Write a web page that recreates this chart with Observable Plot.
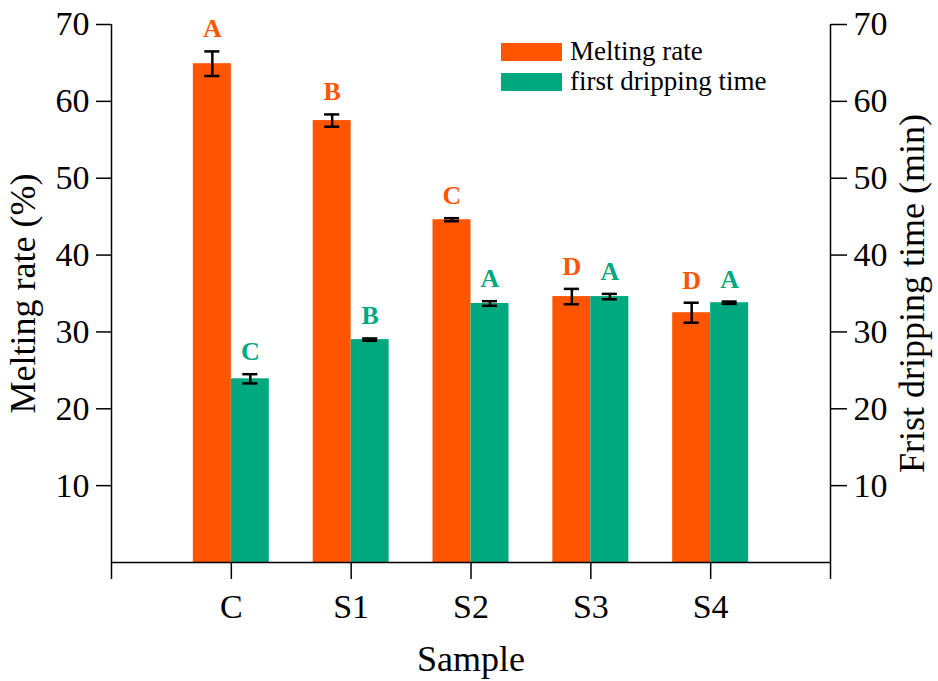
<!DOCTYPE html>
<html>
<head>
<meta charset="utf-8">
<script src="https://cdn.jsdelivr.net/npm/d3@7"></script>
<script src="https://cdn.jsdelivr.net/npm/@observablehq/plot@0.6"></script>
<style>
  body { margin: 0; background: #fff; }
  #wrap { position: relative; width: 938px; height: 681px; font-family: "Liberation Serif", "Times New Roman", serif; }
  .leg { position: absolute; left: 501px; display: flex; align-items: center; font-size: 27px; color: #000; }
  .sw { width: 61px; height: 18px; margin-right: 8px; }
</style>
</head>
<body>
<div id="wrap"></div>
<script>
const samples = ["C", "S1", "S2", "S3", "S4"];
const meltingRate = [64.9, 57.5, 44.6, 34.6, 32.5];
const meltingErr = [1.6, 0.8, 0.2, 1.0, 1.3];
const meltingLetters = ["A", "B", "C", "D", "D"];
const drippingTime = [23.9, 29.0, 33.7, 34.6, 33.8];
const drippingErr = [0.6, 0.15, 0.3, 0.35, 0.15];
const drippingLetters = ["C", "B", "A", "A", "A"];
const yTicks = [10, 20, 30, 40, 50, 60, 70];
const xTicks = [0, 1, 2, 3, 4, 5, 6];

const orange = "#FF5500";
const green = "#00A87F";
const barW = 0.317;
const capW = 0.063;

const rows = samples.map((s, i) => ({
  s, pos: i + 1,
  mr: meltingRate[i], mrE: meltingErr[i], mrL: meltingLetters[i],
  dt: drippingTime[i], dtE: drippingErr[i], dtL: drippingLetters[i]
}));

const chart = Plot.plot({
  width: 938,
  height: 681,
  marginLeft: 111,
  marginRight: 108,
  marginTop: 24,
  marginBottom: 119,
  style: { fontFamily: "'Liberation Serif', 'Times New Roman', serif", background: "#fff", color: "#000" },
  x: { domain: [0, 6] },
  y: { domain: [0, 70] },
  marks: [
    // bars
    Plot.rectY(rows, { x1: d => d.pos - barW, x2: d => d.pos, y1: 0, y2: d => d.mr, fill: orange }),
    Plot.rectY(rows, { x1: d => d.pos, x2: d => d.pos + barW, y1: 0, y2: d => d.dt, fill: green }),
    // error bars
    Plot.ruleX(rows, { x: d => d.pos - barW / 2, y1: d => d.mr - d.mrE, y2: d => d.mr + d.mrE, stroke: "#000", strokeWidth: 2.5 }),
    Plot.ruleY(rows, { y: d => d.mr - d.mrE, x1: d => d.pos - barW / 2 - capW, x2: d => d.pos - barW / 2 + capW, stroke: "#000", strokeWidth: 2.5 }),
    Plot.ruleY(rows, { y: d => d.mr + d.mrE, x1: d => d.pos - barW / 2 - capW, x2: d => d.pos - barW / 2 + capW, stroke: "#000", strokeWidth: 2.5 }),
    Plot.ruleX(rows, { x: d => d.pos + barW / 2, y1: d => d.dt - d.dtE, y2: d => d.dt + d.dtE, stroke: "#000", strokeWidth: 2.5 }),
    Plot.ruleY(rows, { y: d => d.dt - d.dtE, x1: d => d.pos + barW / 2 - capW, x2: d => d.pos + barW / 2 + capW, stroke: "#000", strokeWidth: 2.5 }),
    Plot.ruleY(rows, { y: d => d.dt + d.dtE, x1: d => d.pos + barW / 2 - capW, x2: d => d.pos + barW / 2 + capW, stroke: "#000", strokeWidth: 2.5 }),
    // significance letters
    Plot.text(rows, { x: d => d.pos - barW / 2, y: d => d.mr + d.mrE, text: "mrL", fill: orange, fontSize: 26, fontWeight: "bold", lineAnchor: "bottom", dy: -14 }),
    Plot.text(rows, { x: d => d.pos + barW / 2, y: d => d.dt + d.dtE, text: "dtL", fill: green, fontSize: 26, fontWeight: "bold", lineAnchor: "bottom", dy: -14 }),
    // axis lines
    Plot.ruleY([0], { stroke: "#000", strokeWidth: 1.5 }),
    Plot.ruleX([0, 6], { y1: 0, y2: 70, stroke: "#000", strokeWidth: 1.5 }),
    // axes
    Plot.axisY({ anchor: "left", ticks: yTicks, tickSize: 15, tickPadding: 7, fontSize: 34, strokeWidth: 1.5, tickFormat: d => d }),
    Plot.axisY({ anchor: "left", ticks: [], fontSize: 36,
      label: "Melting rate (%)", labelAnchor: "center", labelArrow: "none", labelOffset: 102 }),
    Plot.axisY({ anchor: "right", ticks: yTicks, tickSize: 16, tickPadding: 7, fontSize: 34, strokeWidth: 1.5, tickFormat: d => d }),
    Plot.axisY({ anchor: "right", ticks: [], fontSize: 36,
      label: "Frist dripping time (min)", labelAnchor: "center", labelArrow: "none", labelOffset: 93 }),
    Plot.axisX({ ticks: xTicks, tickFormat: d => samples[d - 1] ?? "", tickSize: 17, tickPadding: 14, fontSize: 34, strokeWidth: 1.5 }),
    Plot.axisX({ ticks: [], fontSize: 36,
      label: "Sample", labelAnchor: "center", labelArrow: "none", labelOffset: 108 })
  ]
});

const wrap = document.getElementById("wrap");
wrap.appendChild(chart);

const legendItems = [
  { label: "Melting rate", color: orange, top: 36 },
  { label: "first dripping time", color: green, top: 66 }
];
for (const it of legendItems) {
  const row = document.createElement("div");
  row.className = "leg";
  row.style.top = it.top + "px";
  const sw = document.createElement("div");
  sw.className = "sw";
  sw.style.background = it.color;
  const tx = document.createElement("span");
  tx.textContent = it.label;
  row.appendChild(sw);
  row.appendChild(tx);
  wrap.appendChild(row);
}
</script>
</body>
</html>
